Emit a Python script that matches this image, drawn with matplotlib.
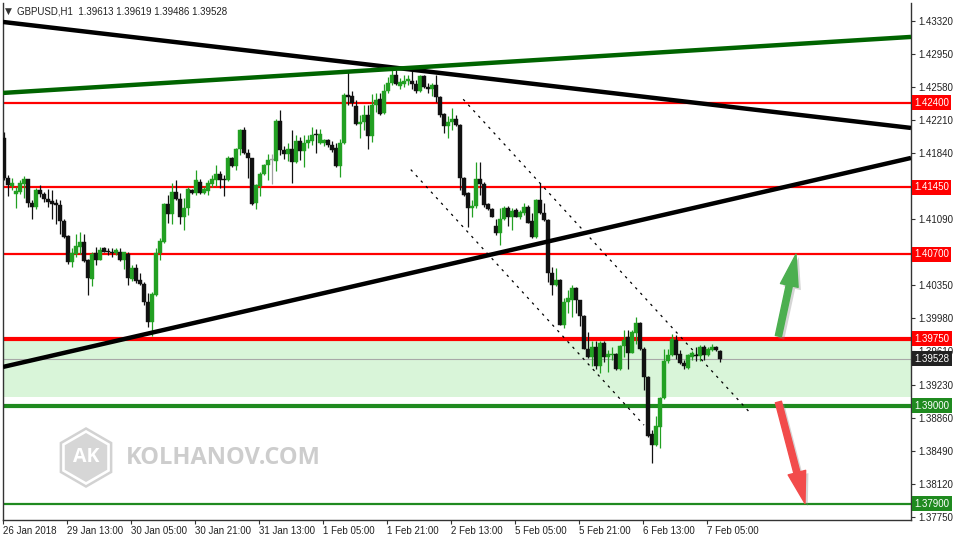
import numpy as np
import matplotlib.pyplot as plt
import matplotlib.transforms as mtransforms
import matplotlib.patheffects as pe
from matplotlib.patches import FancyArrowPatch, RegularPolygon

plt.rcParams['font.family'] = ['Liberation Sans', 'DejaVu Sans']

# GBPUSD H1 candles
opens = [1.4200, 1.4156, 1.4147, 1.4138, 1.4140, 1.4149, 1.4154, 1.4127, 1.4123, 1.4142,
         1.4138, 1.4132, 1.4130, 1.4127, 1.4125, 1.4107, 1.4090, 1.4061, 1.4070, 1.4078,
         1.4084, 1.4064, 1.4042, 1.4071, 1.4064, 1.4077, 1.4074, 1.4072, 1.4071, 1.4073,
         1.4063, 1.4070, 1.4042, 1.4055, 1.4041, 1.4037, 1.4016, 1.3994, 1.4024, 1.4071,
         1.4084, 1.4126, 1.4115, 1.4140, 1.4132, 1.4112, 1.4122, 1.4142, 1.4139, 1.4151,
         1.4139, 1.4141, 1.4149, 1.4153, 1.4160, 1.4154, 1.4153, 1.4178, 1.4169, 1.4188,
         1.4210, 1.4184, 1.4178, 1.4127, 1.4147, 1.4160, 1.4170, 1.4176, 1.4175, 1.4220,
         1.4187, 1.4182, 1.4188, 1.4174, 1.4197, 1.4186, 1.4195, 1.4197, 1.4205, 1.4195,
         1.4195, 1.4198, 1.4193, 1.4189, 1.4169, 1.4195, 1.4249, 1.4248, 1.4236, 1.4216,
         1.4219, 1.4226, 1.4203, 1.4237, 1.4244, 1.4229, 1.4253, 1.4262, 1.4271, 1.4259,
         1.4261, 1.4264, 1.4265, 1.4261, 1.4253, 1.4270, 1.4258, 1.4256, 1.4260, 1.4246,
         1.4227, 1.4214, 1.4218, 1.4222, 1.4215, 1.4156, 1.4139, 1.4122, 1.4124, 1.4155,
         1.4149, 1.4126, 1.4121, 1.4102, 1.4094, 1.4110, 1.4122, 1.4112, 1.4120, 1.4112,
         1.4116, 1.4123, 1.4107, 1.4089, 1.4131, 1.4116, 1.4108, 1.4049, 1.4035, 1.4041,
         1.3991, 1.4016, 1.4019, 1.4032, 1.4019, 1.4001, 1.3964, 1.3954, 1.3966, 1.3944,
         1.3970, 1.3954, 1.3957, 1.3958, 1.3941, 1.3967, 1.3977, 1.3959, 1.3982, 1.3993,
         1.3964, 1.3932, 1.3868, 1.3856, 1.3876, 1.3908, 1.3950, 1.3957, 1.3974, 1.3958,
         1.3948, 1.3942, 1.3955, 1.3957, 1.3956, 1.3966, 1.3957, 1.3962, 1.3966, 1.39613]
highs = [1.4207, 1.4159, 1.4156, 1.4146, 1.4153, 1.4158, 1.4155, 1.4131, 1.4144, 1.4148,
         1.4140, 1.4143, 1.4142, 1.4132, 1.4131, 1.4109, 1.4091, 1.4077, 1.4093, 1.4095,
         1.4093, 1.4065, 1.4072, 1.4078, 1.4078, 1.4078, 1.4077, 1.4077, 1.4077, 1.4077,
         1.4073, 1.4072, 1.4058, 1.4059, 1.4049, 1.4039, 1.4026, 1.4027, 1.4077, 1.4088,
         1.4128, 1.4137, 1.4150, 1.4153, 1.4139, 1.4133, 1.4146, 1.4143, 1.4165, 1.4154,
         1.4145, 1.4153, 1.4159, 1.4170, 1.4163, 1.4159, 1.4180, 1.4179, 1.4189, 1.4211,
         1.4213, 1.4188, 1.4178, 1.4149, 1.4162, 1.4171, 1.4183, 1.4182, 1.4222, 1.4232,
         1.4192, 1.4195, 1.4210, 1.4204, 1.4202, 1.4204, 1.4204, 1.4213, 1.4211, 1.4211,
         1.4199, 1.4199, 1.4197, 1.4195, 1.4199, 1.4251, 1.4277, 1.4253, 1.4243, 1.4226,
         1.4237, 1.4238, 1.4250, 1.4251, 1.4251, 1.4261, 1.4269, 1.4277, 1.4277, 1.4268,
         1.4271, 1.4271, 1.4277, 1.4266, 1.4271, 1.4271, 1.4262, 1.4262, 1.4271, 1.4248,
         1.4229, 1.4225, 1.4234, 1.4226, 1.4216, 1.4157, 1.4140, 1.4131, 1.4174, 1.4173,
         1.4151, 1.4128, 1.4122, 1.4109, 1.4122, 1.4124, 1.4124, 1.4122, 1.4122, 1.4120,
         1.4128, 1.4125, 1.4116, 1.4132, 1.4150, 1.4127, 1.4109, 1.4056, 1.4054, 1.4042,
         1.4021, 1.4030, 1.4035, 1.4033, 1.4019, 1.4002, 1.3983, 1.3972, 1.3972, 1.3972,
         1.3972, 1.3962, 1.3966, 1.3959, 1.3968, 1.3985, 1.3985, 1.3985, 1.3999, 1.3994,
         1.3966, 1.3933, 1.3873, 1.3888, 1.3910, 1.3963, 1.3963, 1.3980, 1.3979, 1.3962,
         1.3951, 1.3958, 1.3961, 1.3966, 1.3968, 1.3968, 1.3966, 1.3969, 1.3967, 1.39619]
lows = [1.4153, 1.4135, 1.4142, 1.4122, 1.4138, 1.4133, 1.4123, 1.4109, 1.4121, 1.4134,
        1.4129, 1.4123, 1.4110, 1.4104, 1.4093, 1.4088, 1.4059, 1.4056, 1.4067, 1.4070,
        1.4061, 1.4024, 1.4034, 1.4058, 1.4063, 1.4072, 1.4069, 1.4067, 1.4069, 1.4062,
        1.4053, 1.4035, 1.4040, 1.4038, 1.4035, 1.4013, 1.3988, 1.3978, 1.4023, 1.4064,
        1.4083, 1.4105, 1.4104, 1.4131, 1.4104, 1.4097, 1.4114, 1.4138, 1.4137, 1.4138,
        1.4138, 1.4137, 1.4146, 1.4147, 1.4144, 1.4135, 1.4152, 1.4168, 1.4165, 1.4181,
        1.4183, 1.4156, 1.4125, 1.4121, 1.4135, 1.4159, 1.4153, 1.4149, 1.4163, 1.4181,
        1.4177, 1.4175, 1.4150, 1.4172, 1.4176, 1.4168, 1.4189, 1.4193, 1.4184, 1.4194,
        1.4192, 1.4190, 1.4185, 1.4168, 1.4157, 1.4194, 1.4238, 1.4236, 1.4215, 1.4201,
        1.4209, 1.4188, 1.4196, 1.4230, 1.4226, 1.4228, 1.4251, 1.4260, 1.4260, 1.4256,
        1.4258, 1.4260, 1.4255, 1.4251, 1.4252, 1.4257, 1.4251, 1.4248, 1.4241, 1.4224,
        1.4206, 1.4201, 1.4210, 1.4214, 1.4142, 1.4135, 1.4100, 1.4112, 1.4122, 1.4137,
        1.4123, 1.4120, 1.4112, 1.4092, 1.4080, 1.4108, 1.4102, 1.4097, 1.4112, 1.4110,
        1.4114, 1.4105, 1.4088, 1.4088, 1.4115, 1.4107, 1.4039, 1.4024, 1.4034, 1.3990,
        1.3987, 1.4004, 1.4000, 1.4004, 1.3989, 1.3963, 1.3953, 1.3944, 1.3941, 1.3937,
        1.3949, 1.3938, 1.3951, 1.3940, 1.3940, 1.3955, 1.3941, 1.3959, 1.3969, 1.3962,
        1.3917, 1.3865, 1.3836, 1.3855, 1.3852, 1.3907, 1.3948, 1.3956, 1.3952, 1.3947,
        1.3941, 1.3941, 1.3951, 1.3950, 1.3950, 1.3951, 1.3956, 1.3961, 1.3961, 1.39486]
closes = [1.4156, 1.4148, 1.4150, 1.4141, 1.4150, 1.4154, 1.4127, 1.4123, 1.4142, 1.4138,
          1.4132, 1.4129, 1.4126, 1.4125, 1.4107, 1.4089, 1.4061, 1.4071, 1.4079, 1.4084,
          1.4062, 1.4043, 1.4070, 1.4064, 1.4075, 1.4073, 1.4072, 1.4071, 1.4075, 1.4063,
          1.4072, 1.4043, 1.4055, 1.4040, 1.4037, 1.4016, 1.3994, 1.4025, 1.4071, 1.4085,
          1.4126, 1.4115, 1.4140, 1.4132, 1.4112, 1.4122, 1.4143, 1.4139, 1.4153, 1.4139,
          1.4143, 1.4150, 1.4154, 1.4160, 1.4153, 1.4153, 1.4178, 1.4169, 1.4188, 1.4210,
          1.4184, 1.4178, 1.4126, 1.4148, 1.4160, 1.4170, 1.4176, 1.4176, 1.4220, 1.4187,
          1.4183, 1.4188, 1.4174, 1.4197, 1.4186, 1.4195, 1.4198, 1.4204, 1.4204, 1.4205,
          1.4198, 1.4193, 1.4187, 1.4169, 1.4195, 1.4249, 1.4247, 1.4240, 1.4216, 1.4219,
          1.4226, 1.4203, 1.4237, 1.4243, 1.4228, 1.4253, 1.4262, 1.4271, 1.4261, 1.4263,
          1.4265, 1.4267, 1.4261, 1.4253, 1.4270, 1.4258, 1.4256, 1.4260, 1.4246, 1.4226,
          1.4214, 1.4219, 1.4222, 1.4215, 1.4156, 1.4136, 1.4122, 1.4124, 1.4155, 1.4149,
          1.4125, 1.4121, 1.4112, 1.4094, 1.4109, 1.4122, 1.4112, 1.4119, 1.4112, 1.4117,
          1.4123, 1.4105, 1.4089, 1.4131, 1.4116, 1.4108, 1.4049, 1.4035, 1.4041, 1.3991,
          1.4016, 1.4021, 1.4032, 1.4019, 1.4001, 1.3964, 1.3954, 1.3966, 1.3944, 1.3970,
          1.3954, 1.3958, 1.3958, 1.3941, 1.3967, 1.3974, 1.3959, 1.3983, 1.3993, 1.3964,
          1.3932, 1.3866, 1.3856, 1.3877, 1.3909, 1.3950, 1.3957, 1.3975, 1.3957, 1.3948,
          1.3944, 1.3957, 1.3959, 1.3956, 1.3966, 1.3957, 1.3963, 1.3966, 1.3962, 1.39528]

time_labels = ['26 Jan 2018', '29 Jan 13:00', '30 Jan 05:00', '30 Jan 21:00', '31 Jan 13:00',
               '1 Feb 05:00', '1 Feb 21:00', '2 Feb 13:00', '5 Feb 05:00', '5 Feb 21:00',
               '6 Feb 13:00', '7 Feb 05:00']
price_ticks = [1.37750, 1.38120, 1.38490, 1.38860, 1.39230, 1.39610, 1.39980, 1.40350,
               1.41090, 1.41840, 1.42210, 1.42580, 1.42950, 1.43320]

red_levels = [1.42400, 1.41450, 1.40700, 1.39750]
green_levels = [1.39000, 1.37900]
zone = (1.3910, 1.3975)
last_price = 1.39528

# trend lines: (bar, price) pairs
trend_black_top = [(-0.25, 1.43308), (226.75, 1.42118)]
trend_black_up = [(-0.25, 1.39434), (226.75, 1.41781)]
trend_green = [(-0.25, 1.42511), (226.75, 1.43140)]
chan_upper = [(114.8, 1.4244), (186.7, 1.3891)]
chan_lower = [(101.7, 1.4165), (160.0, 1.3878)]
arrow_up = [(193.6, 1.3978), (198.0, 1.4070)]
arrow_down = [(193.6, 1.3904), (200.25, 1.3790)]

W, H = 954, 540
fig = plt.figure(figsize=(W / 100, H / 100), dpi=100)
ax = fig.add_axes([3 / W, 20 / H, 908 / W, 517 / H])
ax.set_xlim(-0.25, 226.75)
ax.set_ylim(1.37715, 1.43521)

x = np.arange(len(opens))
o = np.array(opens); c = np.array(closes)
hi = np.array(highs); lo = np.array(lows)
cols = np.where(c > o, '#22a022', np.where(c < o, '#111111', '#a0a0a0'))

# zone and levels
ax.axhspan(zone[0], zone[1], color='#d9f5d9', lw=0, zorder=0)
ax.axhline(last_price, color='#a8a8a8', lw=0.8, zorder=1)
for lv in red_levels:
    ax.axhline(lv, color='#ff0000', lw=3.0 if lv == 1.39750 else 1.6, zorder=2)
for lv in green_levels:
    ax.axhline(lv, color='#1f8a1f', lw=3.0 if lv == 1.39000 else 1.6, zorder=2)

# candles
ax.vlines(x, lo, hi, colors=cols, lw=0.9, zorder=3)
body = np.maximum(np.abs(c - o), 0.00009)
ax.bar(x, body, bottom=np.minimum(o, c), width=0.78, color=cols, edgecolor=cols,
       lw=0.3, zorder=3)

# trend lines
for seg, col in [(trend_black_top, '#000000'), (trend_black_up, '#000000'), (trend_green, '#006400')]:
    ax.plot([seg[0][0], seg[1][0]], [seg[0][1], seg[1][1]], color=col, lw=3.2,
            solid_capstyle='butt', zorder=4)
for seg in [chan_upper, chan_lower]:
    ax.plot([seg[0][0], seg[1][0]], [seg[0][1], seg[1][1]], color='black', lw=0.9,
            linestyle=(0, (2, 4)), zorder=4)

# arrows
shadow = [pe.withSimplePatchShadow(offset=(2, -2), shadow_rgbFace='#888888', alpha=0.35)]
for seg, col in [(arrow_up, '#4caf50'), (arrow_down, '#f24b4b')]:
    ar = FancyArrowPatch(seg[0], seg[1], arrowstyle='simple,head_length=2.3,head_width=1.3,tail_width=0.45',
                         mutation_scale=10, color=col, shrinkA=0, shrinkB=0, zorder=5,
                         path_effects=shadow)
    ax.add_patch(ar)

# watermark
inch = fig.dpi_scale_trans
ax.add_patch(RegularPolygon((0.86, 0.825), 6, radius=0.29, fc='none', ec='#d2d2d2', lw=1.8,
                            transform=inch, clip_on=False, zorder=1))
ax.add_patch(RegularPolygon((0.86, 0.825), 6, radius=0.245, fc='#d6d6d6', ec='none',
                            transform=inch, clip_on=False, zorder=1))
ax.text(0.86, 0.825, 'AK', transform=inch, ha='center', va='center', color='white',
        fontsize=14, fontweight='bold', family=['Open Sans', 'DejaVu Sans'], zorder=1)
ax.text(1.26, 0.825, 'KOLHANOV.COM', transform=inch, ha='left', va='center', color='#cdcdcd',
        fontsize=17, fontweight='bold', family=['Open Sans', 'DejaVu Sans'], zorder=1)

# axes styling
for side in ['left', 'right', 'bottom']:
    ax.spines[side].set_color('#333333')
    ax.spines[side].set_linewidth(1)
ax.spines['top'].set_visible(False)

ax.yaxis.tick_right()
ax.set_yticks(price_ticks)
ax.set_yticklabels(['%.5f' % p for p in price_ticks])
ax.tick_params(axis='y', length=3, width=0.8, pad=2, labelsize=7, colors='#333333',
               labelcolor='#222222')

ax.set_xticks([16 * i - 0.25 for i in range(len(time_labels))])
ax.set_xticklabels(time_labels)
ax.tick_params(axis='x', length=3, width=0.8, pad=1, labelsize=7, colors='#333333',
               labelcolor='#222222')
for lab in ax.get_xticklabels():
    lab.set_horizontalalignment('left')

# price labels on the scale
blend = mtransforms.blended_transform_factory(ax.transAxes, ax.transData)
boxes = [(lv, '#ff0000') for lv in red_levels] + [(lv, '#1f8a1f') for lv in green_levels]
boxes.append((last_price, '#222222'))
for lv, col in boxes:
    ax.text(1.0035, lv, '%.5f' % lv, transform=blend, ha='left', va='center', color='white',
            fontsize=7, clip_on=False, zorder=10,
            bbox=dict(boxstyle='square,pad=0.25', fc=col, ec='none'))

# header
fig.text(5 / W, 1 - 11 / H, '\u25bc', fontsize=6.5, color='#333333', va='center',
         family=['DejaVu Sans'])
fig.text(17 / W, 1 - 11 / H, 'GBPUSD,H1  1.39613 1.39619 1.39486 1.39528', fontsize=7,
         color='#222222', va='center')

fig.savefig('out.png', dpi=100)
